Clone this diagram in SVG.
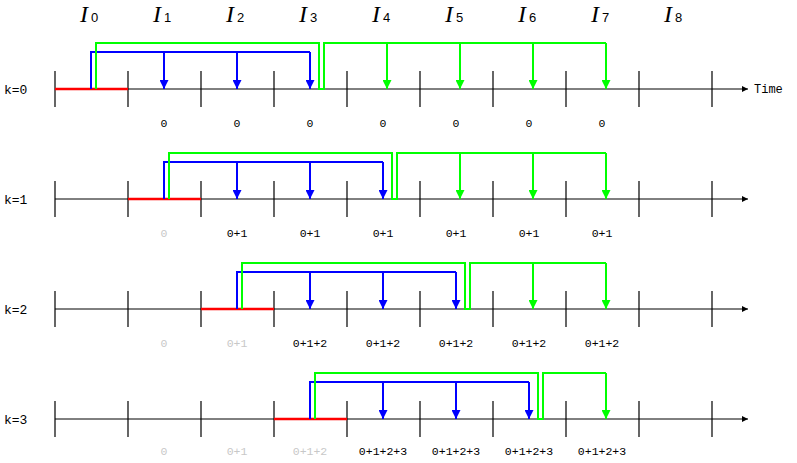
<svg xmlns="http://www.w3.org/2000/svg" width="797" height="463" viewBox="0 0 797 463">
<defs>
<marker id="ab" viewBox="0 0 10 10" refX="10" refY="5" markerWidth="5.5" markerHeight="4.5" orient="auto" markerUnits="strokeWidth"><path d="M0,0L10,5L0,10z" fill="#0000ff"/></marker>
<marker id="ag" viewBox="0 0 10 10" refX="10" refY="5" markerWidth="5.5" markerHeight="4.5" orient="auto" markerUnits="strokeWidth"><path d="M0,0L10,5L0,10z" fill="#00ff00"/></marker>
<marker id="ak" viewBox="0 0 10 10" refX="10" refY="5" markerWidth="8" markerHeight="6" orient="auto" markerUnits="strokeWidth"><path d="M0,0L10,5L0,10z" fill="#000"/></marker>
</defs>
<style>
.ax{stroke:#000;stroke-width:1;fill:none}
.tk{stroke:#000;stroke-width:1.2}
.red{stroke:#ff0000;stroke-width:2.5}
.b{stroke:#0000ff;stroke-width:2;fill:none}
.g{stroke:#00ff00;stroke-width:2;fill:none}
.ba{stroke:#0000ff;stroke-width:2;marker-end:url(#ab)}
.ga{stroke:#00ff00;stroke-width:2;marker-end:url(#ag)}
.lb{font-family:"Liberation Mono",monospace;font-size:11.5px;text-anchor:middle;fill:#000}
.gr{fill:#c8c8c8}
.k{font-family:"Liberation Mono",monospace;font-size:13px;fill:#000}
.I{font-family:"Liberation Serif",serif;font-style:italic;font-size:24px;fill:#000}
.s{font-family:"Liberation Sans",sans-serif;font-size:13px;font-style:normal}
</style>
<g id="headers">
<text class="I" x="80" y="22">I<tspan class="s" dx="3">0</tspan></text>
<text class="I" x="153" y="22">I<tspan class="s" dx="3">1</tspan></text>
<text class="I" x="226" y="22">I<tspan class="s" dx="3">2</tspan></text>
<text class="I" x="299" y="22">I<tspan class="s" dx="3">3</tspan></text>
<text class="I" x="372" y="22">I<tspan class="s" dx="3">4</tspan></text>
<text class="I" x="445" y="22">I<tspan class="s" dx="3">5</tspan></text>
<text class="I" x="518" y="22">I<tspan class="s" dx="3">6</tspan></text>
<text class="I" x="591" y="22">I<tspan class="s" dx="3">7</tspan></text>
<text class="I" x="664" y="22">I<tspan class="s" dx="3">8</tspan></text>
</g>
<g id="row0">
<text class="k" x="4" y="94">k=0</text>
<line class="ax" x1="55" y1="89" x2="748" y2="89" marker-end="url(#ak)"/>
<text class="k" x="754" y="93" style="font-size:12px">Time</text>
<path class="tk" d="M55,71V107M128,71V107M201,71V107M274,71V107M347,71V107M420,71V107M493,71V107M566,71V107M639,71V107M712,71V107"/>
<line class="red" x1="55" y1="89" x2="128" y2="89"/>
<g class="lb"><text x="164" y="127">0</text><text x="237" y="127">0</text><text x="310" y="127">0</text><text x="383" y="127">0</text><text x="456" y="127">0</text><text x="529" y="127">0</text><text x="602" y="127">0</text></g>
</g>
<g id="row1">
<text class="k" x="4" y="204">k=1</text>
<line class="ax" x1="55" y1="199" x2="748" y2="199" marker-end="url(#ak)"/>
<path class="tk" d="M55,181V217M128,181V217M201,181V217M274,181V217M347,181V217M420,181V217M493,181V217M566,181V217M639,181V217M712,181V217"/>
<line class="red" x1="128" y1="199" x2="201" y2="199"/>
<g class="lb"><text class="gr" x="164" y="237">0</text><text x="237" y="237">0+1</text><text x="310" y="237">0+1</text><text x="383" y="237">0+1</text><text x="456" y="237">0+1</text><text x="529" y="237">0+1</text><text x="602" y="237">0+1</text></g>
</g>
<g id="row2">
<text class="k" x="4" y="314">k=2</text>
<line class="ax" x1="55" y1="309" x2="748" y2="309" marker-end="url(#ak)"/>
<path class="tk" d="M55,291V327M128,291V327M201,291V327M274,291V327M347,291V327M420,291V327M493,291V327M566,291V327M639,291V327M712,291V327"/>
<line class="red" x1="201" y1="309" x2="274" y2="309"/>
<g class="lb"><text class="gr" x="164" y="347">0</text><text class="gr" x="237" y="347">0+1</text><text x="310" y="347">0+1+2</text><text x="383" y="347">0+1+2</text><text x="456" y="347">0+1+2</text><text x="529" y="347">0+1+2</text><text x="602" y="347">0+1+2</text></g>
</g>
<g id="row3">
<text class="k" x="4" y="424">k=3</text>
<line class="ax" x1="55" y1="419" x2="748" y2="419" marker-end="url(#ak)"/>
<path class="tk" d="M55,401V437M128,401V437M201,401V437M274,401V437M347,401V437M420,401V437M493,401V437M566,401V437M639,401V437M712,401V437"/>
<line class="red" x1="274" y1="419" x2="347" y2="419"/>
<g class="lb"><text class="gr" x="164" y="455">0</text><text class="gr" x="237" y="455">0+1</text><text class="gr" x="310" y="455">0+1+2</text><text x="383" y="455">0+1+2+3</text><text x="456" y="455">0+1+2+3</text><text x="529" y="455">0+1+2+3</text><text x="602" y="455">0+1+2+3</text></g>
</g>
<g id="connectors">
<path class="b" d="M91,89V52H310"/>
<line class="ba" x1="164" y1="52" x2="164" y2="89"/><line class="ba" x1="237" y1="52" x2="237" y2="89"/><line class="ba" x1="310" y1="52" x2="310" y2="89"/>
<path class="g" d="M96,89V43H319V89H324V43H606"/>
<line class="ga" x1="387" y1="43" x2="387" y2="89"/><line class="ga" x1="460" y1="43" x2="460" y2="89"/><line class="ga" x1="533" y1="43" x2="533" y2="89"/><line class="ga" x1="606" y1="43" x2="606" y2="89"/>

<path class="b" d="M164,199V162H383"/>
<line class="ba" x1="237" y1="162" x2="237" y2="199"/><line class="ba" x1="310" y1="162" x2="310" y2="199"/><line class="ba" x1="383" y1="162" x2="383" y2="199"/>
<path class="g" d="M169,199V153H392V199H397V153H606"/>
<line class="ga" x1="460" y1="153" x2="460" y2="199"/><line class="ga" x1="533" y1="153" x2="533" y2="199"/><line class="ga" x1="606" y1="153" x2="606" y2="199"/>

<path class="b" d="M237,309V272H456"/>
<line class="ba" x1="310" y1="272" x2="310" y2="309"/><line class="ba" x1="383" y1="272" x2="383" y2="309"/><line class="ba" x1="456" y1="272" x2="456" y2="309"/>
<path class="g" d="M242,309V263H465V309H470V263H606"/>
<line class="ga" x1="533" y1="263" x2="533" y2="309"/><line class="ga" x1="606" y1="263" x2="606" y2="309"/>

<path class="b" d="M310,419V382H529"/>
<line class="ba" x1="383" y1="382" x2="383" y2="419"/><line class="ba" x1="456" y1="382" x2="456" y2="419"/><line class="ba" x1="529" y1="382" x2="529" y2="419"/>
<path class="g" d="M315,419V373H538V419H543V373H606"/>
<line class="ga" x1="606" y1="373" x2="606" y2="419"/>
</g>
</svg>
